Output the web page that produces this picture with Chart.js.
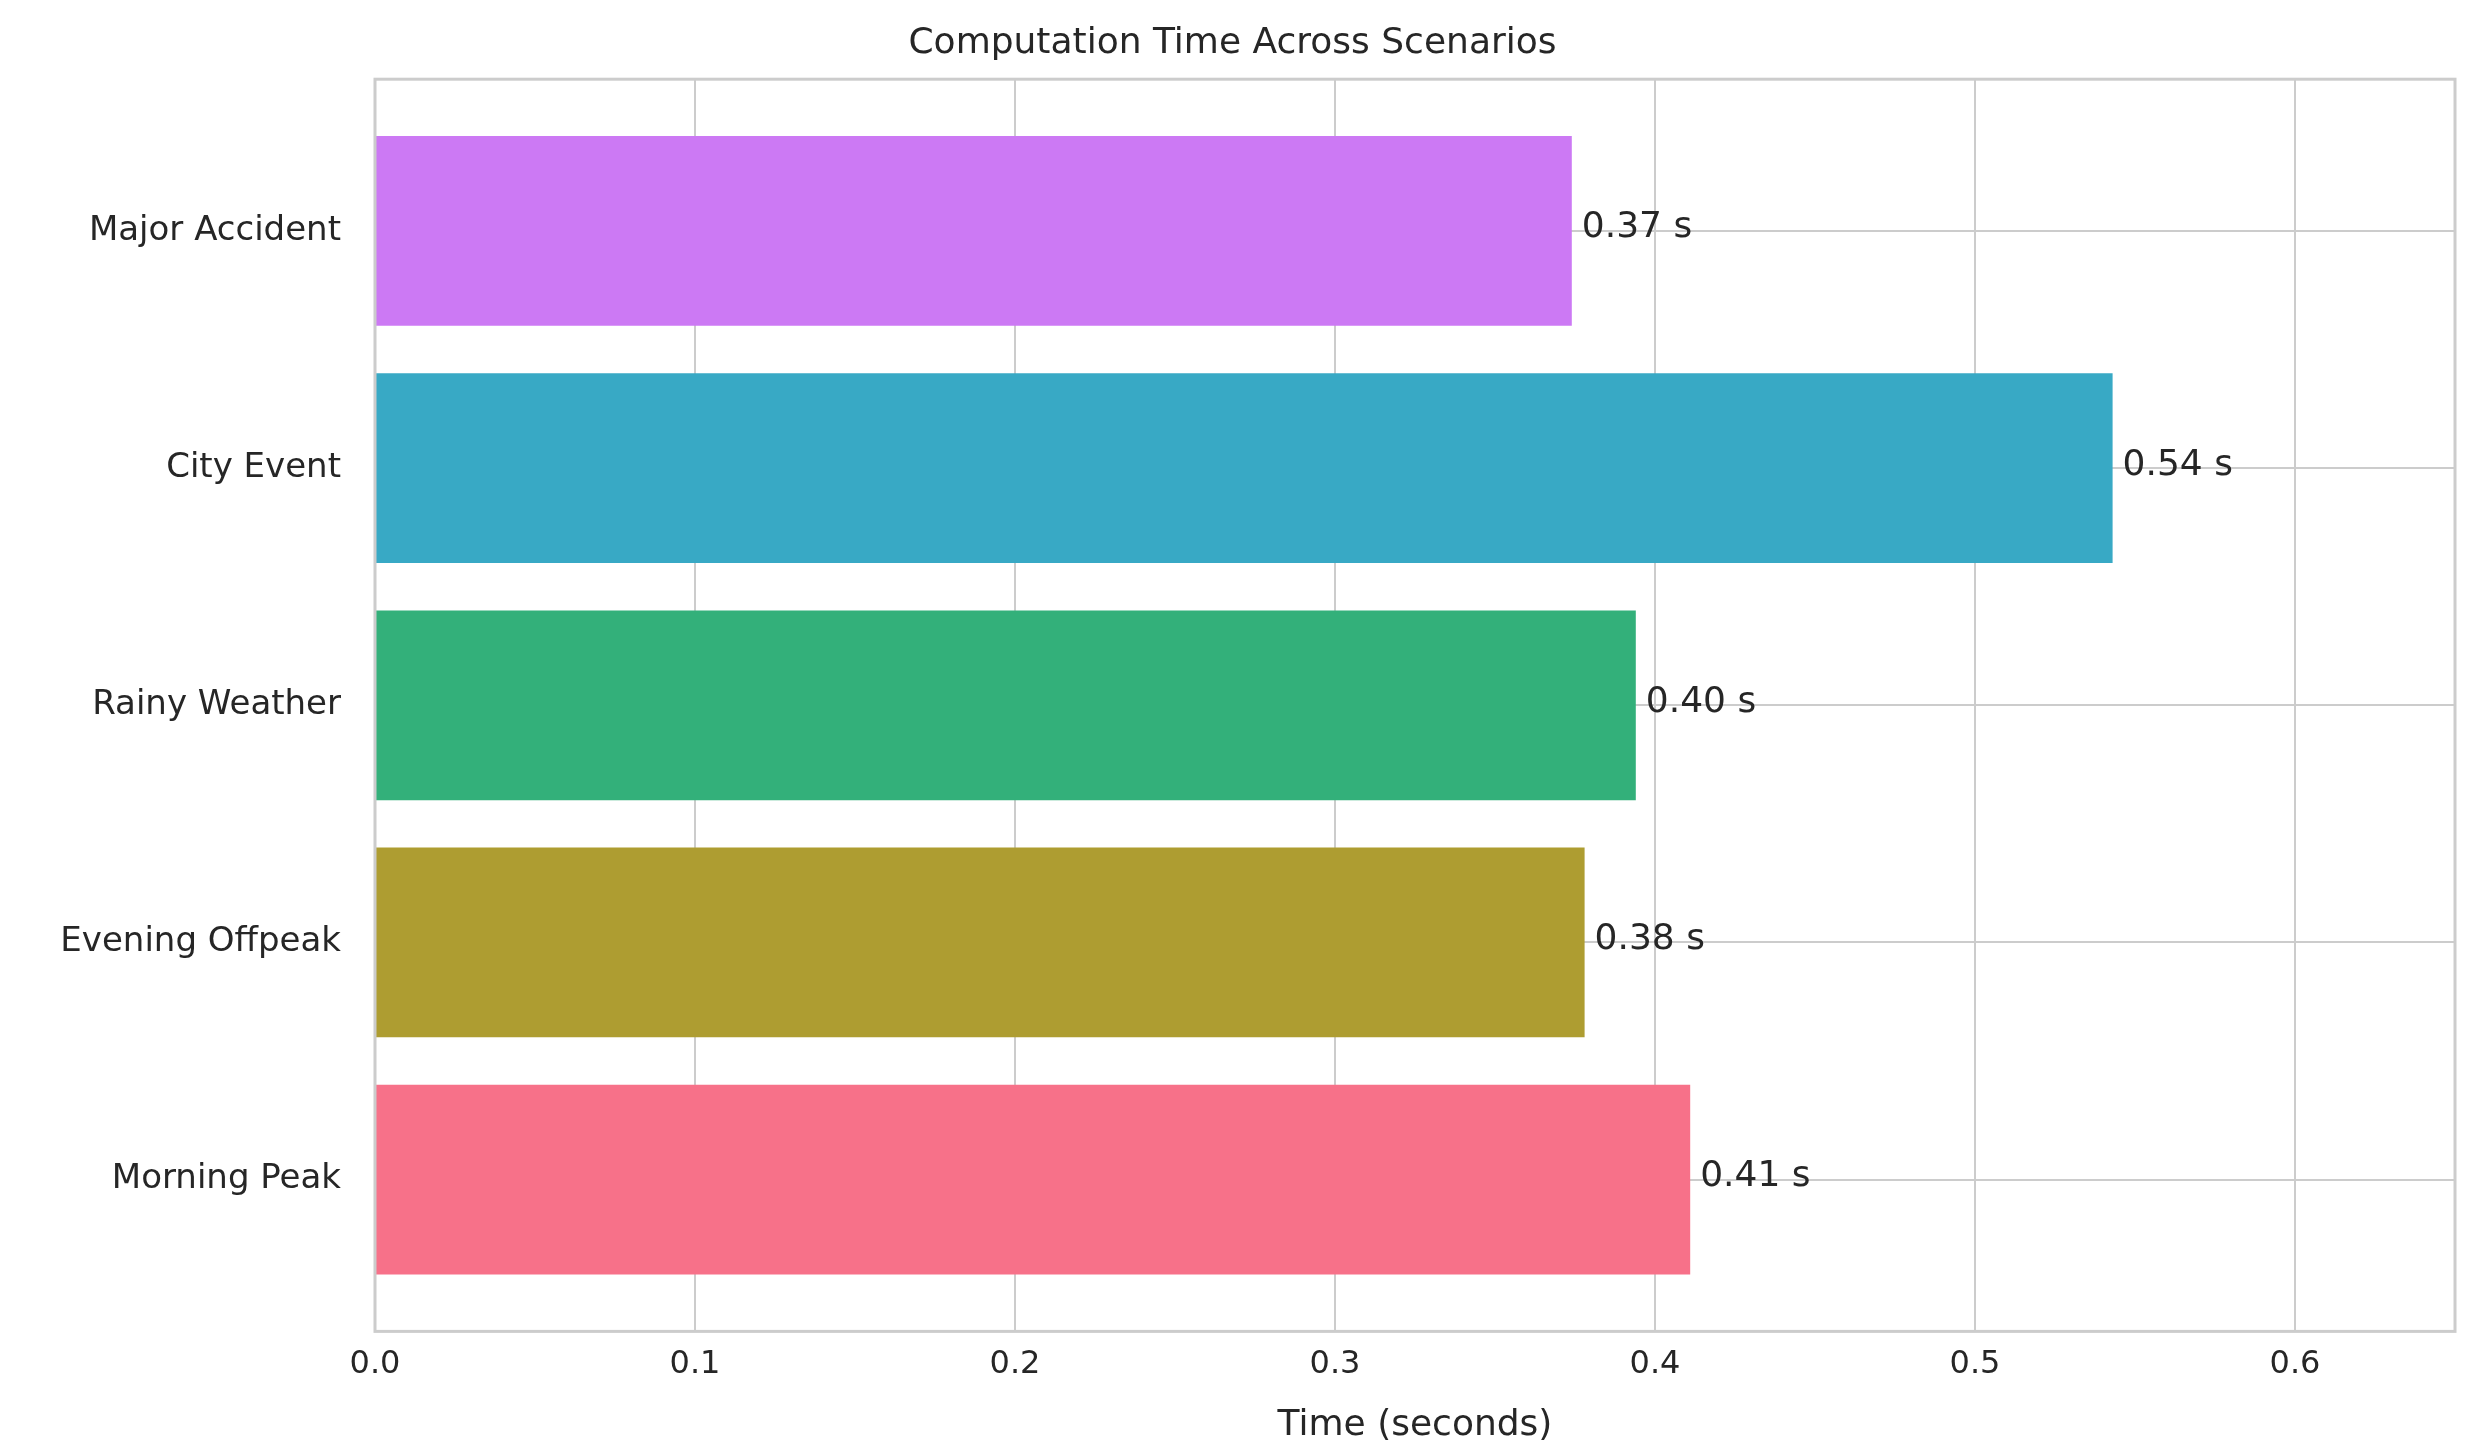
<!DOCTYPE html>
<html><head><meta charset="utf-8">
<script src="https://cdn.jsdelivr.net/npm/chart.js@4"></script>
<style>html,body{margin:0;padding:0;background:#fff}#w{width:2471px;height:1451px}</style>
</head><body><div id="w"><canvas id="c"></canvas></div>
<script>
const categories = ["Morning Peak","Evening Offpeak","Rainy Weather","City Event","Major Accident"];
const values = [0.411, 0.378, 0.394, 0.543, 0.374];
const valueLabels = ["0.41 s","0.38 s","0.40 s","0.54 s","0.37 s"];
const colors = ["#f77189","#ae9d31","#33b07a","#38a9c5","#cc79f4"];
const xTicks = [0,0.1,0.2,0.3,0.4,0.5,0.6];

const F = "'DejaVu Sans', sans-serif";
const TXT = "#262626";
const labelPlugin = {
  id:'vals',
  afterDatasetsDraw(chart){
    const ctx = chart.ctx, meta = chart.getDatasetMeta(0);
    ctx.save(); ctx.font = "36px "+F; ctx.fillStyle = TXT;
    ctx.textBaseline = "middle"; ctx.textAlign = "left";
    meta.data.forEach((b,i)=>{ ctx.fillText(valueLabels[i], b.x+10, b.y-3); });
    ctx.restore();
  }
};
const framePlugin = {
  id:'frame',
  afterDraw(chart){
    const a = chart.chartArea, ctx = chart.ctx;
    ctx.save(); ctx.strokeStyle="#cccccc"; ctx.lineWidth=3;
    ctx.strokeRect(a.left, a.top, a.right-a.left, a.bottom-a.top); ctx.restore();
  }
};
new Chart(document.getElementById('c'), {
  type:'bar',
  data:{ datasets:[{
    data: values.map((v,i)=>({x:v, y:i})),
    backgroundColor: colors, borderWidth:0,
    barPercentage:0.8, categoryPercentage:1
  }]},
  plugins:[labelPlugin, framePlugin],
  options:{
    indexAxis:'y', responsive:true, maintainAspectRatio:false, animation:false,
    layout:{padding:{left:10,right:16,top:0,bottom:4}},
    plugins:{
      legend:{display:false}, tooltip:{enabled:false},
      title:{display:true, text:"Computation Time Across Scenarios", color:TXT,
        font:{family:F,size:36,weight:'normal'}, padding:{top:22,bottom:14}}
    },
    scales:{
      x:{ type:'linear', min:0, max:0.65, position:'bottom',
        afterBuildTicks(s){ s.ticks = xTicks.map(v=>({value:v})); },
        ticks:{ color:TXT, font:{family:F,size:32}, padding:14, callback:v=>v.toFixed(1) },
        grid:{ color:"#cccccc", lineWidth:2, drawTicks:false },
        border:{display:false},
        title:{display:true, text:"Time (seconds)", color:TXT, font:{family:F,size:36}, padding:{top:6,bottom:0}}
      },
      y:{ type:'linear', min:-0.64, max:4.64, offset:false,
        afterBuildTicks(s){ s.ticks = categories.map((c,i)=>({value:i})); },
        afterFit(s){ s.width = 365; },
        ticks:{ color:TXT, font:{family:F,size:34}, padding:34, callback:v=>categories[v] },
        grid:{ color:"#cccccc", lineWidth:2, drawTicks:false, offset:false },
        border:{display:false}
      }
    }
  }
});
</script></body></html>
